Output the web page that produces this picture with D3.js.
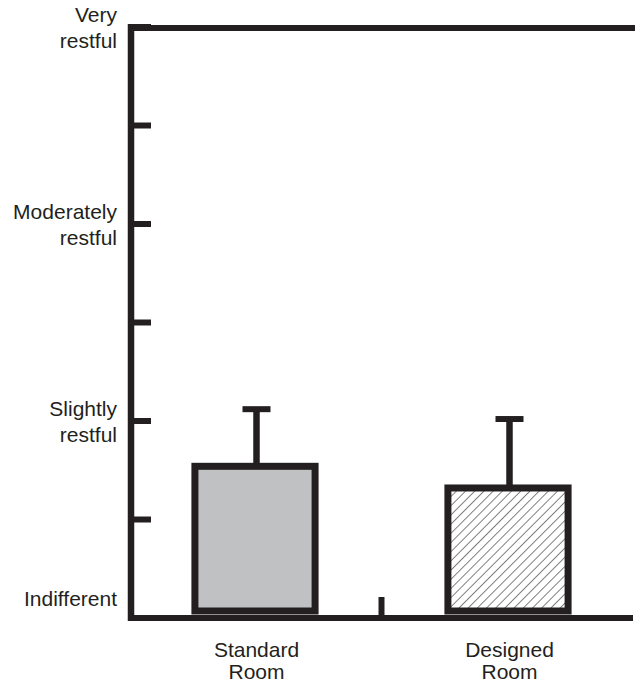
<!DOCTYPE html>
<html>
<head>
<meta charset="utf-8">
<script src="https://cdn.jsdelivr.net/npm/d3@7"></script>
<style>
  html, body { margin: 0; padding: 0; background: #fff; }
  svg { display: block; }
  text { font-family: "Liberation Sans", Arial, Helvetica, sans-serif; fill: #231f20; }
</style>
</head>
<body>
<svg id="chart" width="635" height="686"></svg>
<script>
// ---- data ----
const categories = ["Standard Room", "Designed Room"];
const meanValues = [0.77, 0.66];
const errorValues = [0.29, 0.35];
const fills = ["solid", "hatch"];
const tickValues = [0, 0.5, 1, 1.5, 2, 2.5, 3];
const tickLabels = [
  { v: 0, lines: ["Indifferent"] },
  { v: 1, lines: ["Slightly", "restful"] },
  { v: 2, lines: ["Moderately", "restful"] },
  { v: 3, lines: ["Very", "restful"] }
];

// ---- drawing ----
const ink = "#231f20";
const svg = d3.select("#chart");
const y = d3.scaleLinear().domain([0, 3]).range([618, 27]);
const x = d3.scaleBand().domain(categories).range([130, 636]).padding(0);
const axisX = 131;

const defs = svg.append("defs");
const pat = defs.append("pattern")
  .attr("id", "hatch").attr("patternUnits", "userSpaceOnUse")
  .attr("width", 6.5).attr("height", 6.5)
  .attr("patternTransform", "rotate(45)");
pat.append("rect").attr("width", 6.5).attr("height", 6.5).attr("fill", "#fff");
pat.append("line").attr("x1", 0).attr("y1", 0).attr("x2", 0).attr("y2", 6.5)
  .attr("stroke", "#7a7a7a").attr("stroke-width", 1.9);

const bw = x.bandwidth() * 0.475;
const data = categories.map((c, i) => ({ c, v: meanValues[i], e: errorValues[i], f: fills[i] }));

const g = svg.append("g");
// error bars
g.selectAll(".err").data(data).enter().append("line")
  .attr("x1", d => x(d.c) + x.bandwidth() / 2)
  .attr("x2", d => x(d.c) + x.bandwidth() / 2)
  .attr("y1", d => y(d.v))
  .attr("y2", d => y(d.v + d.e))
  .attr("stroke", ink).attr("stroke-width", 6.5);
g.selectAll(".cap").data(data).enter().append("line")
  .attr("x1", d => x(d.c) + x.bandwidth() / 2 - 14)
  .attr("x2", d => x(d.c) + x.bandwidth() / 2 + 14)
  .attr("y1", d => y(d.v + d.e))
  .attr("y2", d => y(d.v + d.e))
  .attr("stroke", ink).attr("stroke-width", 6);
// bars
g.selectAll(".bar").data(data).enter().append("rect")
  .attr("x", d => x(d.c) + x.bandwidth() / 2 - bw / 2 - 1.5)
  .attr("width", bw)
  .attr("y", d => y(d.v))
  .attr("height", d => y(0) - 7 - y(d.v))
  .attr("fill", d => d.f === "hatch" ? "url(#hatch)" : "#c0c1c3")
  .attr("stroke", ink).attr("stroke-width", 7);

// axes
const ax = svg.append("g");
ax.append("line").attr("x1", axisX).attr("x2", axisX).attr("y1", y(3) - 3).attr("y2", y(0) + 3)
  .attr("stroke", ink).attr("stroke-width", 6.5);
ax.append("line").attr("x1", axisX - 3).attr("x2", 633).attr("y1", y(0)).attr("y2", y(0))
  .attr("stroke", ink).attr("stroke-width", 6);
ax.append("line").attr("x1", axisX - 3).attr("x2", 635).attr("y1", y(3) + 1).attr("y2", y(3) + 1)
  .attr("stroke", ink).attr("stroke-width", 6);
ax.selectAll(".tick").data(tickValues).enter().append("line")
  .attr("x1", axisX - 3).attr("x2", axisX + 20)
  .attr("y1", d => y(d)).attr("y2", d => y(d))
  .attr("stroke", ink).attr("stroke-width", 6);
// middle x tick between categories
ax.append("line")
  .attr("x1", x(categories[1]) - 1.5).attr("x2", x(categories[1]) - 1.5)
  .attr("y1", y(0) - 21).attr("y2", y(0))
  .attr("stroke", ink).attr("stroke-width", 6);

// y labels
tickLabels.forEach(t => {
  const txt = svg.append("text").attr("text-anchor", "end").attr("font-size", 21);
  t.lines.forEach((ln, i) => {
    const off = t.lines.length === 1 ? -12 : (i === 0 ? -5 : 21);
    txt.append("tspan").attr("x", 117).attr("y", y(t.v) + off).text(ln);
  });
});

// x labels
categories.forEach(c => {
  const parts = c.split(" ");
  const txt = svg.append("text").attr("text-anchor", "middle").attr("font-size", 21);
  parts.forEach((p, i) => {
    txt.append("tspan").attr("x", x(c) + x.bandwidth() / 2).attr("y", 657 + i * 21.5).text(p);
  });
});
</script>
</body>
</html>
